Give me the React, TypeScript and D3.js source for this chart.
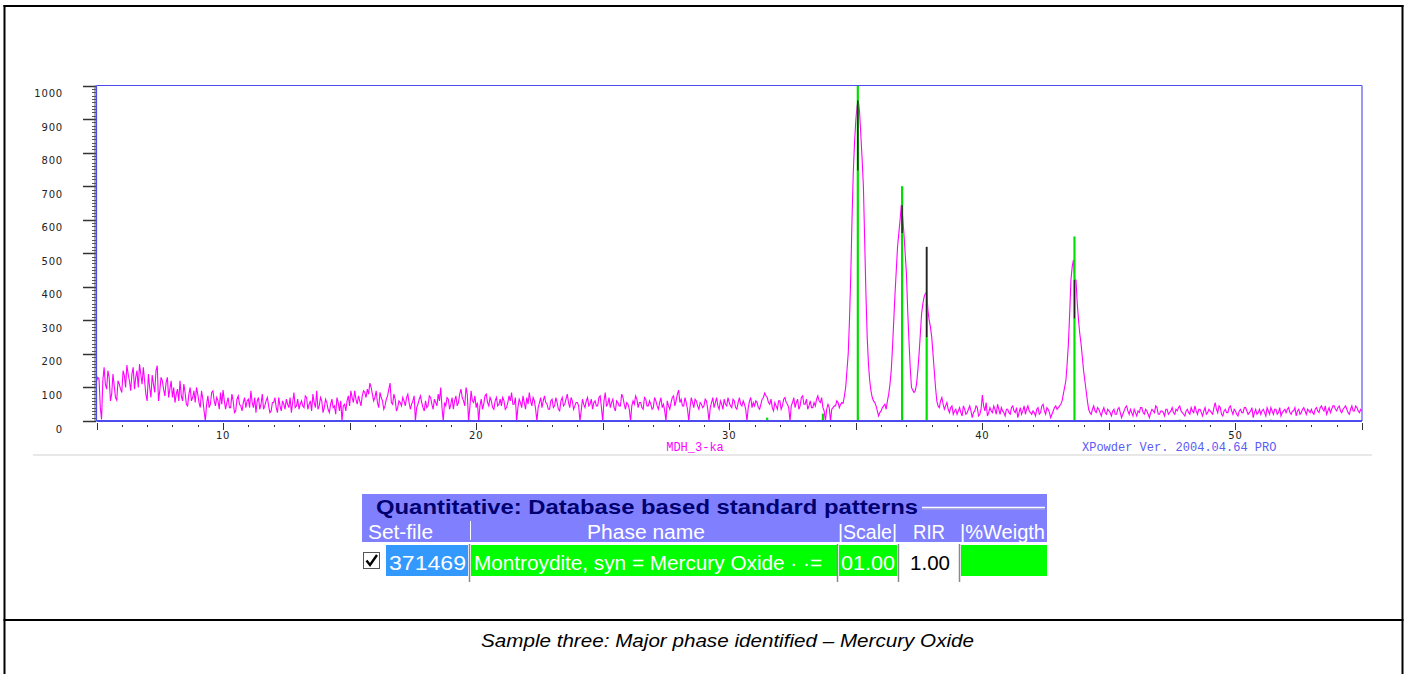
import React from "react";
import * as d3 from "d3";

// ---- data ----
const TWO_THETA_START = 5;
const TWO_THETA_STEP = 0.1;
// intensity (counts) at 5.0, 5.1, ... 55.0 (one row per degree)
const INTENSITY = [
  118, 125, 5, 160, 95, 130, 80, 105, 62, 110, // 5
  85, 135, 167, 120, 140, 95, 150, 170, 110, 120, // 6
  60, 100, 137, 85, 165, 90, 120, 75, 130, 95, // 7
  70, 55, 95, 120, 60, 85, 45, 100, 70, 55, // 8
  80, 40, 65, 0, 75, 50, 90, 45, 60, 85, // 9
  92, 35, 70, 40, 60, 30, 75, 45, 55, 40, // 10
  65, 90, 40, 25, 70, 50, 35, 60, 45, 30, // 11
  55, 40, 70, 30, 50, 65, 40, 25, 85, 45, // 12
  35, 60, 40, 70, 50, 30, 55, 90, 45, 60, // 13
  40, 55, 25, 65, 45, 70, 30, 0, 50, 60, // 14
  45, 70, 90, 50, 60, 75, 85, 95, 113, 80, // 15
  70, 55, 85, 60, 45, 75, 113, 50, 65, 40, // 16
  55, 70, 45, 80, 35, 60, 0, 50, 75, 40, // 17
  60, 45, 70, 35, 55, 80, 100, 0, 45, 65, // 18
  50, 35, 75, 55, 95, 60, 100, 0, 90, 55, // 19
  40, 0, 65, 50, 80, 45, 60, 35, 70, 50, // 20
  45, 60, 40, 75, 85, 50, 0, 65, 40, 55, // 21
  70, 85, 45, 60, 0, 55, 40, 75, 50, 35, // 22
  65, 45, 55, 30, 70, 50, 80, 40, 60, 45, // 23
  55, 0, 65, 40, 70, 50, 35, 60, 45, 75, // 24
  0, 85, 50, 40, 65, 30, 55, 45, 70, 35, // 25
  50, 0, 60, 75, 40, 55, 35, 65, 45, 50, // 26
  40, 60, 35, 70, 50, 0, 45, 55, 75, 60, // 27
  92, 65, 45, 55, 0, 70, 40, 60, 35, 50, // 28
  45, 60, 0, 55, 40, 70, 35, 50, 65, 45, // 29
  55, 40, 60, 35, 70, 45, 50, 0, 60, 40, // 30
  45, 55, 35, 65, 83, 70, 50, 40, 55, 35, // 31
  60, 45, 70, 50, 0, 55, 40, 65, 45, 75, // 32
  50, 35, 60, 40, 45, 75, 55, 40, 0, 50, // 33
  0, 40, 45, 55, 50, 53, 100, 200, 430, 740, // 34
  895, 955, 850, 700, 380, 170, 90, 60, 45, 15, // 35
  30, 45, 35, 80, 150, 300, 450, 560, 645, 560, // 36
  440, 240, 100, 85, 110, 200, 320, 370, 385, 300, // 37
  250, 150, 60, 40, 70, 35, 55, 25, 45, 30, // 38
  20, 40, 15, 35, 25, 45, 10, 30, 40, 20, // 39
  77, 30, 15, 40, 25, 35, 50, 20, 30, 15, // 40
  35, 20, 45, 25, 10, 40, 30, 20, 45, 25, // 41
  30, 15, 40, 25, 50, 20, 35, 10, 30, 45, // 42
  40, 50, 80, 120, 230, 420, 480, 420, 300, 230, // 43
  150, 90, 35, 20, 45, 25, 35, 15, 40, 20, // 44
  30, 15, 35, 20, 40, 10, 30, 45, 20, 25, // 45
  35, 15, 25, 40, 20, 30, 10, 35, 25, 40, // 46
  20, 30, 15, 35, 25, 40, 20, 30, 45, 25, // 47
  15, 35, 20, 30, 45, 20, 35, 15, 40, 25, // 48
  30, 20, 55, 25, 40, 15, 35, 25, 45, 20, // 49
  30, 15, 35, 25, 40, 20, 30, 10, 35, 25, // 50
  20, 35, 15, 30, 40, 20, 35, 25, 15, 30, // 51
  25, 40, 20, 30, 15, 35, 25, 40, 20, 30, // 52
  35, 20, 40, 25, 45, 30, 20, 40, 35, 45, // 53
  30, 45, 25, 40, 35, 20, 45, 30, 40, 25, // 54
  30, // 55
];
// intensity read at the half steps 5.05, 5.15, ... 54.95
const INTENSITY_HALF = [
  130, 40, 120, 110, 150, 60, 140, 70, 120, 95, // 5
  150, 100, 140, 90, 160, 130, 100, 140, 160, 80, // 6
  140, 70, 110, 150, 60, 130, 95, 115, 70, 120, // 7
  100, 80, 60, 75, 110, 50, 80, 60, 90, 100, // 8
  55, 90, 30, 50, 40, 85, 60, 70, 35, 50, // 9
  60, 55, 40, 80, 25, 65, 50, 30, 70, 60, // 10
  40, 55, 70, 60, 35, 80, 45, 70, 25, 55, // 11
  70, 25, 45, 60, 35, 50, 70, 55, 40, 65, // 12
  50, 45, 75, 35, 60, 80, 40, 35, 70, 25, // 13
  65, 35, 50, 40, 20, 55, 60, 45, 30, 75, // 14
  90, 55, 65, 75, 45, 90, 70, 80, 100, 60, // 15
  90, 40, 70, 35, 65, 95, 55, 80, 30, 60, // 16
  45, 60, 70, 55, 50, 75, 40, 65, 55, 30, // 17
  40, 75, 50, 65, 45, 60, 40, 55, 70, 35, // 18
  70, 60, 45, 80, 70, 45, 80, 40, 60, 75, // 19
  55, 45, 35, 75, 55, 70, 40, 60, 45, 65, // 20
  70, 35, 55, 60, 50, 70, 40, 55, 75, 35, // 21
  50, 60, 70, 35, 40, 70, 60, 55, 35, 60, // 22
  40, 70, 35, 60, 45, 65, 55, 70, 35, 55, // 23
  45, 30, 50, 60, 45, 65, 55, 45, 70, 40, // 24
  60, 45, 70, 55, 40, 60, 45, 80, 50, 55, // 25
  35, 45, 50, 65, 55, 40, 70, 45, 60, 35, // 26
  70, 45, 55, 40, 30, 60, 35, 70, 45, 80, // 27
  55, 45, 70, 35, 40, 55, 65, 45, 55, 40, // 28
  65, 35, 40, 70, 55, 45, 60, 35, 50, 70, // 29
  45, 65, 40, 55, 50, 60, 35, 40, 70, 55, // 30
  60, 40, 50, 70, 75, 55, 65, 30, 45, 60, // 31
  35, 65, 55, 40, 45, 70, 55, 35, 70, 50, // 32
  65, 45, 40, 55, 65, 60, 70, 30, 35, 40, // 33
  35, 45, 60, 40, 55, 75, 150, 300, 600, 830, // 34
  940, 920, 780, 540, 250, 120, 70, 55, 30, 25, // 35
  40, 50, 60, 110, 220, 380, 520, 600, 610, 500, // 36
  330, 160, 92, 90, 150, 260, 350, 380, 330, 280, // 37
  200, 100, 45, 60, 50, 45, 35, 40, 20, 35, // 38
  30, 25, 45, 20, 35, 30, 25, 45, 15, 35, // 39
  45, 55, 25, 30, 45, 20, 35, 40, 25, 35, // 40
  25, 40, 30, 40, 25, 20, 45, 35, 30, 20, // 41
  25, 35, 20, 45, 30, 40, 25, 20, 40, 35, // 42
  45, 60, 100, 170, 320, 460, 420, 350, 260, 190, // 43
  120, 60, 25, 35, 30, 40, 25, 30, 25, 35, // 44
  25, 30, 20, 35, 25, 20, 40, 30, 35, 15, // 45
  25, 30, 40, 25, 35, 20, 25, 30, 45, 20, // 46
  30, 25, 35, 20, 30, 25, 35, 40, 30, 20, // 47
  30, 25, 40, 25, 30, 35, 25, 30, 20, 35, // 48
  25, 40, 35, 45, 20, 30, 25, 40, 30, 35, // 49
  20, 30, 25, 40, 30, 25, 40, 25, 20, 35, // 50
  30, 25, 40, 20, 30, 35, 20, 40, 25, 35, // 51
  35, 25, 30, 40, 30, 20, 35, 30, 35, 25, // 52
  25, 35, 30, 40, 35, 45, 30, 25, 45, 35, // 53
  40, 30, 35, 45, 25, 35, 30, 45, 30, 35, // 54
];

// database reference sticks (Montroydite)
const STICK_POS = [31.5, 33.7, 35.08, 36.83, 37.8, 43.64, 47.8, 51.4];
const STICK_INT = [10, 22, 1000, 700, 519, 550, 4, 4];

// black peak markers
const MARK_POS = [35.08, 36.83, 37.8, 43.64];
const MARK_TOP = [955, 643, 519, 420];
const MARK_BOT = [747, 560, 250, 306];

const Y_TICKS = [0, 100, 200, 300, 400, 500, 600, 700, 800, 900, 1000];
const X_LABELS = [10, 20, 30, 40, 50];

const SAMPLE_NAME = "MDH_3-ka";
const SOFTWARE = "XPowder Ver. 2004.04.64 PRO";
const TABLE_TITLE = "Quantitative: Database based standard patterns";
const HEADER_TEXT = ["Set-file", "|", "Phase name", "|Scale|", "RIR", "|%Weigth"];
const ROW_SETFILE = "371469";
const ROW_PHASE = "Montroydite, syn = Mercury Oxide \u00b7 \u00b7=";
const ROW_SCALE = "01.00";
const ROW_RIR = "1.00";
const CAPTION = "Sample three: Major phase identified \u2013 Mercury Oxide";

// ---- layout ----
const W = 1407;
const H = 674;
const PL = 96.5, PR = 1362, PT = 85.5, PB = 421;

export default function App() {
  const x = d3.scaleLinear().domain([5, 55]).range([PL, PR]);
  const y = d3.scaleLinear().domain([0, 1000]).range([PB, PT]);

  const pts: [number, number][] = [];
  INTENSITY.forEach((v, i) => {
    const t = TWO_THETA_START + i * TWO_THETA_STEP;
    pts.push([t, v]);
    if (i < INTENSITY_HALF.length) pts.push([t + TWO_THETA_STEP / 2, INTENSITY_HALF[i]]);
  });
  const line = d3
    .line<[number, number]>()
    .x((d) => x(d[0]))
    .y((d) => y(d[1]));

  const minorY = d3.range(0, 1001, 10);
  const minorX = d3.range(5, 56, 1);

  const axisFont = "'DejaVu Sans', Verdana, sans-serif";
  const mono = "'Liberation Mono', 'Courier New', monospace";
  const sans = "'Liberation Sans', Arial, sans-serif";

  return (
    <svg
      width={W}
      height={H}
      style={{ position: "absolute", left: 0, top: 0, background: "#fff" }}
    >
      <rect x={0} y={0} width={W} height={H} fill="#fff" />
      {/* outer frame */}
      <line x1={3.5} x2={1403.5} y1={6} y2={6} stroke="#000" strokeWidth={2} />
      <line x1={4.5} x2={4.5} y1={5} y2={H} stroke="#000" strokeWidth={2} />
      <line x1={1402.5} x2={1402.5} y1={5} y2={H} stroke="#000" strokeWidth={2} />
      <line x1={3.5} x2={1403.5} y1={620} y2={620} stroke="#000" strokeWidth={2} />

      {/* y ticks */}
      {minorY.map((v) => (
        <line
          key={"my" + v}
          x1={v % 100 === 0 ? 83 : 92}
          x2={96}
          y1={Math.round(y(v)) + 0.5}
          y2={Math.round(y(v)) + 0.5}
          stroke={v % 100 === 0 ? "#333" : "#555"}
          strokeWidth={v % 100 === 0 ? 1.5 : 1}
        />
      ))}
      <line x1={95} x2={95} y1={PT} y2={PB} stroke="#555" strokeWidth={1} />
      {Y_TICKS.map((v) => (
        <text
          key={"yl" + v}
          x={63}
          y={y(v) + 11.5}
          textAnchor="end"
          fontFamily={axisFont}
          fontSize={10}
          letterSpacing={0.8}
          fill="#222"
        >
          {v}
        </text>
      ))}

      {/* x ticks */}
      {minorX.map((v) => (
        <line
          key={"mx" + v}
          x1={Math.round(x(v)) + 0.5}
          x2={Math.round(x(v)) + 0.5}
          y1={v % 5 === 0 ? 423 : 425}
          y2={v % 5 === 0 ? 430 : 427}
          stroke="#333"
          strokeWidth={1}
        />
      ))}
      {X_LABELS.map((v) => (
        <text
          key={"xl" + v}
          x={x(v)}
          y={439}
          textAnchor="middle"
          fontFamily={axisFont}
          fontSize={10}
          letterSpacing={0.8}
          fill="#222"
        >
          {v}
        </text>
      ))}

      {/* trace */}
      <path d={line(pts) || ""} fill="none" stroke="#ff00ff" strokeWidth={1.1} />

      {/* reference sticks */}
      {STICK_POS.map((p, i) => (
        <line
          key={"st" + i}
          x1={x(p)}
          x2={x(p)}
          y1={PB}
          y2={y(STICK_INT[i])}
          stroke="#00e000"
          strokeWidth={2.2}
        />
      ))}
      {MARK_POS.map((p, i) => (
        <line
          key={"mk" + i}
          x1={x(p)}
          x2={x(p)}
          y1={y(MARK_TOP[i])}
          y2={y(MARK_BOT[i])}
          stroke="#222"
          strokeWidth={1.4}
        />
      ))}

      {/* plot frame */}
      <line x1={PL} x2={PR} y1={PT} y2={PT} stroke="#4b4bee" strokeWidth={1} />
      <line x1={PL} x2={PL} y1={PT} y2={PB} stroke="#4b4bee" strokeWidth={1.2} />
      <line x1={PR} x2={PR} y1={PT} y2={PB} stroke="#7a7af5" strokeWidth={1.5} />
      <line x1={PL} x2={PR} y1={PB} y2={PB} stroke="#4b4bee" strokeWidth={2} />

      {/* footer labels */}
      <text x={695} y={451} textAnchor="middle" fontFamily={mono} fontSize={12} fill="#ff00ff">
        {SAMPLE_NAME}
      </text>
      <text x={1082} y={451} fontFamily={mono} fontSize={12} fill="#5a5af5">
        {SOFTWARE}
      </text>
      <line x1={33} x2={1372} y1={455} y2={455} stroke="#e8e8e8" strokeWidth={2} />

      {/* table */}
      <rect x={362} y={494} width={685} height={48} fill="#8080ff" />
      <text
        x={376}
        y={514}
        fontFamily={sans}
        fontWeight="bold"
        fontSize={20}
        fill="#000070"
        textLength={542}
        lengthAdjust="spacingAndGlyphs"
      >
        {TABLE_TITLE}
      </text>
      <line x1={922} x2={1045} y1={507.5} y2={507.5} stroke="#ffffff" strokeWidth={1.5} />
      <line x1={922} x2={1045} y1={509} y2={509} stroke="#b0b0d8" strokeWidth={1} />
      {[
        { t: HEADER_TEXT[0], x: 368, w: 65 },
        { t: HEADER_TEXT[2], x: 587, w: 118 },
        { t: HEADER_TEXT[3], x: 838, w: 59 },
        { t: HEADER_TEXT[4], x: 913, w: 32 },
        { t: HEADER_TEXT[5], x: 960, w: 85 },
      ].map((h, i) => (
        <text
          key={"h" + i}
          x={h.x}
          y={539}
          fontFamily={sans}
          fontSize={20}
          fill="#fff"
          textLength={h.w}
          lengthAdjust="spacingAndGlyphs"
        >
          {h.t}
        </text>
      ))}
      <line x1={470.5} x2={470.5} y1={521} y2={540} stroke="#fff" strokeWidth={1} />

      {/* data row */}
      <rect x={363.5} y={552.5} width={16} height={16} fill="#fff" stroke="#555" strokeWidth={1} />
      <path d="M366.5,560.5 L370,565 L377,555" fill="none" stroke="#000" strokeWidth={2.4} />
      <rect x={386} y={545} width={82} height={31} fill="#3399ff" />
      <text x={389} y={570} fontFamily={sans} fontSize={20} fill="#fff" textLength={77} lengthAdjust="spacingAndGlyphs">
        {ROW_SETFILE}
      </text>
      <rect x={471} y={545} width={366} height={31} fill="#00ff00" />
      <text x={474} y={570} fontFamily={sans} fontSize={20} fill="#fff" textLength={348} lengthAdjust="spacingAndGlyphs">
        {ROW_PHASE}
      </text>
      <rect x={839} y={545} width={58} height={31} fill="#00ff00" />
      <text x={841} y={570} fontFamily={sans} fontSize={20} fill="#fff" textLength={54} lengthAdjust="spacingAndGlyphs">
        {ROW_SCALE}
      </text>
      <rect x={900} y={545} width={59} height={31} fill="#fff" />
      <text x={910} y={570} fontFamily={sans} fontSize={20} fill="#000" textLength={40} lengthAdjust="spacingAndGlyphs">
        {ROW_RIR}
      </text>
      <rect x={961} y={545} width={86} height={31} fill="#00ff00" />
      {[469.5, 837.5, 898.5, 959.5].map((lx, i) => (
        <line key={"vl" + i} x1={lx} x2={lx} y1={544} y2={582} stroke="#8a8a8a" strokeWidth={1.5} />
      ))}

      {/* caption */}
      <text
        x={481}
        y={647}
        fontFamily={sans}
        fontStyle="italic"
        fontSize={18}
        fill="#000"
        textLength={493}
        lengthAdjust="spacingAndGlyphs"
      >
        {CAPTION}
      </text>
    </svg>
  );
}
